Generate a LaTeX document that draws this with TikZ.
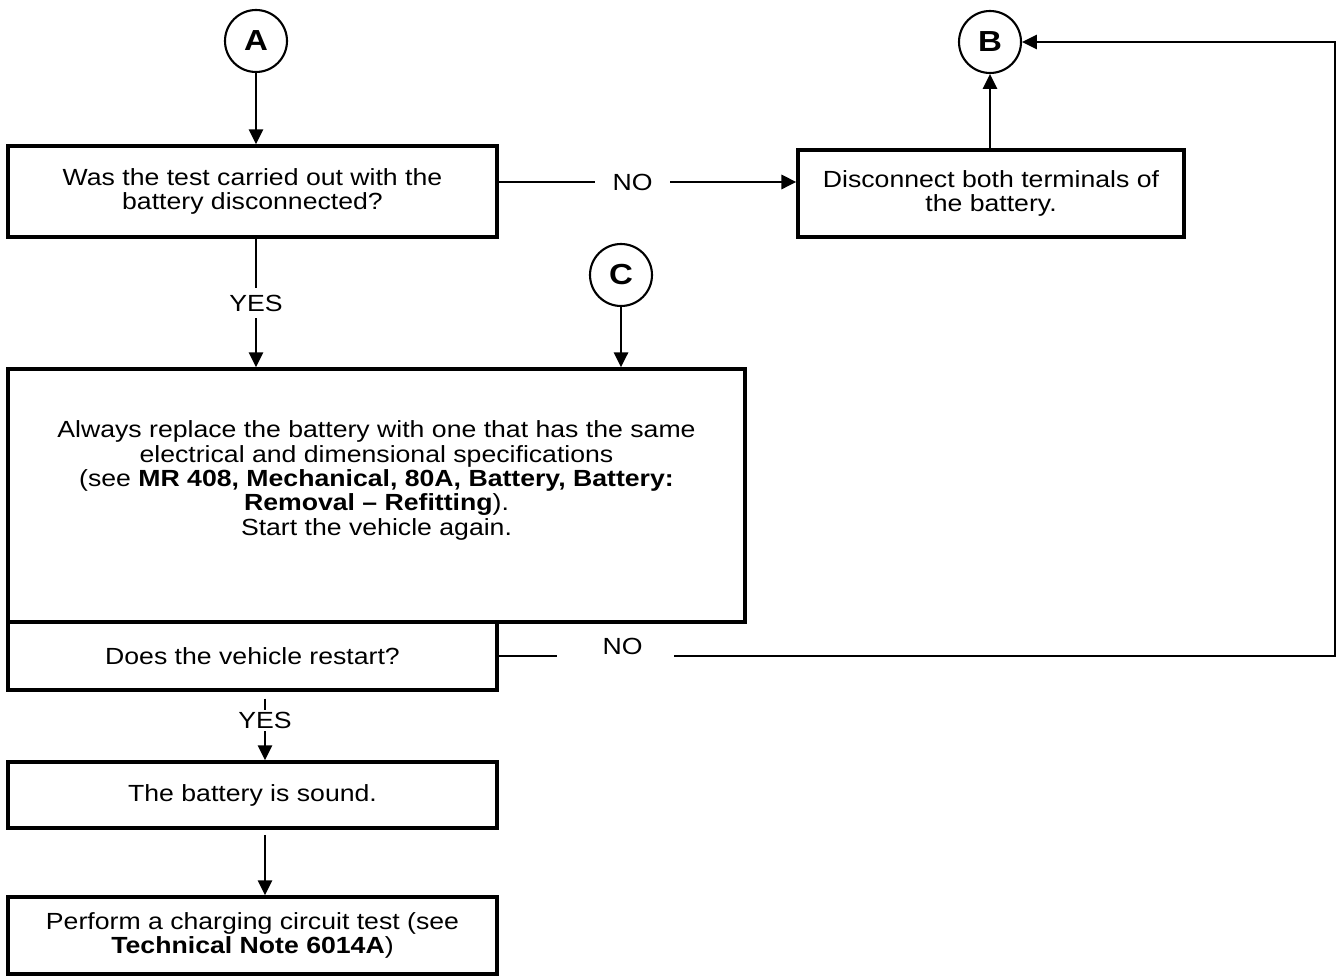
\documentclass[tikz,border=0pt]{standalone}
\usepackage{fontspec}
\setmainfont{Liberation Sans}[FakeStretch=1.14]
\usetikzlibrary{arrows.meta}

\tikzset{
  stepbox/.style={draw, line width=1.9pt, align=center, inner sep=0pt},
  joint/.style={draw, circle, line width=1.2pt, minimum size=1.24cm, inner sep=0pt, font=\bfseries\fontsize{16.5}{16.5}\selectfont},
  flow/.style={line width=1.5pt, -{Triangle[length=8.5pt,width=8pt]}},
  answer/.style={fill=white, inner xsep=1pt, inner ysep=4pt}
}

\begin{document}
\begin{tikzpicture}[x=0.02cm, y=-0.02cm, font=\fontsize{13.3}{13.5}\selectfont]
			\useasboundingbox (0,0) rectangle (1338,979);
			\node[joint] (A) at (256,41) {A};
			\node[joint] (B) at (990,42) {B};
			\node[joint] (C) at (621,275) {C};
			\node[stepbox, minimum width=9.78cm, minimum height=1.82cm] (tested) at (252.5,191.5) {Was the test carried out with the\\battery disconnected?};
			\node[stepbox, minimum width=7.72cm, minimum height=1.74cm] (unplug) at (991,193.5) {Disconnect both terminals of\\the battery.};
			\node[stepbox, minimum width=14.74cm, minimum height=5.06cm] (renew) at (376.5,495.5) {};
			\node[align=center, font=\fontsize{13.3}{13.9}\selectfont] (renewtext) at ([yshift=0.3cm]renew.center) {Always replace the battery with one that has the same\\electrical and dimensional specifications\\(see \textbf{MR 408, Mechanical, 80A, Battery, Battery:}\\\textbf{Removal – Refitting}).\\Start the vehicle again.};
			\node[stepbox, minimum width=9.78cm, minimum height=1.36cm] (restart) at (252.5,656) {Does the vehicle restart?};
			\node[stepbox, minimum width=9.78cm, minimum height=1.32cm] (sound) at (252.5,795) {The battery is sound.};
			\node[stepbox, minimum width=9.78cm, minimum height=1.54cm] (charge) at (252.5,935.5) {Perform a charging circuit test (see\\\textbf{Technical Note 6014A})};
			\coordinate (edge) at (1335,0);
			\draw[flow] (A) -- (A |- tested.north);
			\draw[flow] ([yshift=0.19cm]tested.east) -- node[answer, pos=0.45, inner xsep=10pt] {NO} ([yshift=0.19cm]tested.east -| unplug.west);
			\draw[flow] (unplug.north -| B) -- (B);
			\draw[flow] (tested.south -| A) -- node[answer] {YES} (renew.north -| A);
			\draw[flow] (C) -- (C |- renew.north);
			\draw[flow] (restart.east) -- node[answer, pos=0.14, minimum width=2.34cm, yshift=0.2cm, inner ysep=3pt] {\hspace*{0.28cm}NO} (restart.east -| edge) |- (B);
			\draw[flow, shorten <=4pt] ([xshift=0.25cm]restart.south) -- node[answer, pos=0.42, inner ysep=1pt] {YES} ([xshift=0.25cm]sound.north);
			\draw[flow, shorten <=3pt] ([xshift=0.25cm]sound.south) -- ([xshift=0.25cm]charge.north);
		\end{tikzpicture}
\end{document}
